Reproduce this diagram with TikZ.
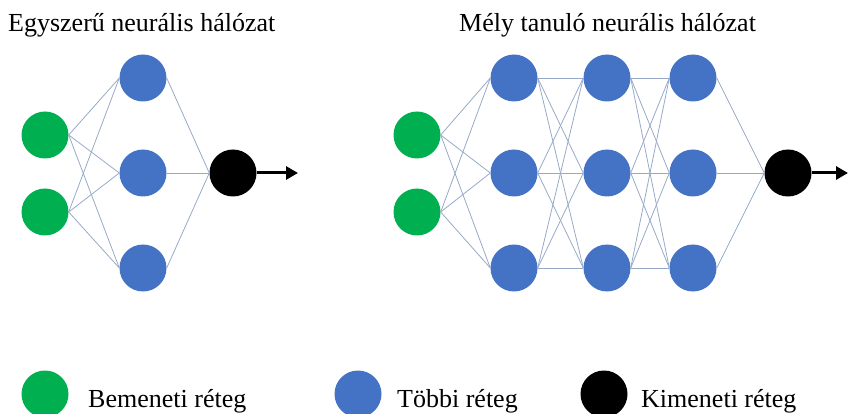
\documentclass[tikz,border=0pt]{standalone}
\usepackage{fontspec}
\setmainfont{Liberation Serif}
\usetikzlibrary{arrows.meta}

\definecolor{ingreen}{RGB}{0,176,80}
\definecolor{hidblue}{RGB}{68,114,196}
\definecolor{wirecol}{RGB}{150,170,200}

\begin{document}
\begin{tikzpicture}
	[x=1pt,y=-1pt,font=\fontsize{26}{30}\selectfont]
	\tikzstyle{neuron}=[circle, minimum size=47pt, inner sep=0pt]
	\tikzstyle{innode}=[neuron, fill=ingreen]
	\tikzstyle{hidnode}=[neuron, fill=hidblue]
	\tikzstyle{outnode}=[neuron, fill=black]
	\tikzstyle{link}=[draw=wirecol, line width=0.8pt]
	\tikzstyle{outarrow}=[-{Triangle[length=12pt,width=13pt]}, line width=3pt]
	\tikzstyle{label}=[anchor=base west, inner sep=0pt]

	\useasboundingbox (0,0) rectangle (849,414);

	% titles
	\node[label] (t1) at (8,32) {Egyszerű neurális hálózat};
	\node[label] (t2) at (459,32) {Mély tanuló neurális hálózat};

	% simple network
	\node[innode] (in1) at (45,135) {};
	\node[innode] (in2) at (45,212) {};
	\node[hidnode] (h1) at (143,78) {};
	\node[hidnode] (h2) at (143,173) {};
	\node[hidnode] (h3) at (143,268) {};
	\node[outnode] (out) at (233,173) {};
	\coordinate (tip) at (298,173);

	\foreach \i in {1,2}
		\foreach \j in {1,2,3}
			\path (in\i.east) edge[link] (h\j.west);
	\foreach \j in {1,2,3}
		\path (h\j.east) edge[link] (out.west);
	\draw[outarrow] (out.east) -- (tip);

	% deep network
	\node[innode] (din1) at (417,135) {};
	\node[innode] (din2) at (417,212) {};
	\foreach \c/\x in {a/514,b/607,c/693}
	{
		\node[hidnode] (\c1) at (\x,78) {};
		\node[hidnode] (\c2) at (\x,173) {};
		\node[hidnode] (\c3) at (\x,268) {};
	}
	\node[outnode] (dout) at (788,173) {};
	\coordinate (dtip) at (848,173);

	\foreach \i in {1,2}
		\foreach \j in {1,2,3}
			\path (din\i.east) edge[link] (a\j.west);
	\foreach \i in {1,2,3}
		\foreach \j in {1,2,3}
		{
			\path (a\i.east) edge[link] (b\j.west);
			\path (b\i.east) edge[link] (c\j.west);
		}
	\foreach \j in {1,2,3}
		\path (c\j.east) edge[link] (dout.west);
	\draw[outarrow] (dout.east) -- (dtip);

	% legend
	\node[innode] (k1) at (45,394) {};
	\node[label] (k1t) at (88,407) {Bemeneti réteg};
	\node[hidnode] (k2) at (358,394) {};
	\node[label] (k2t) at (397,407) {Többi réteg};
	\node[outnode] (k3) at (604,394) {};
	\node[label] (k3t) at (641,407) {Kimeneti réteg};

\end{tikzpicture}
\end{document}
